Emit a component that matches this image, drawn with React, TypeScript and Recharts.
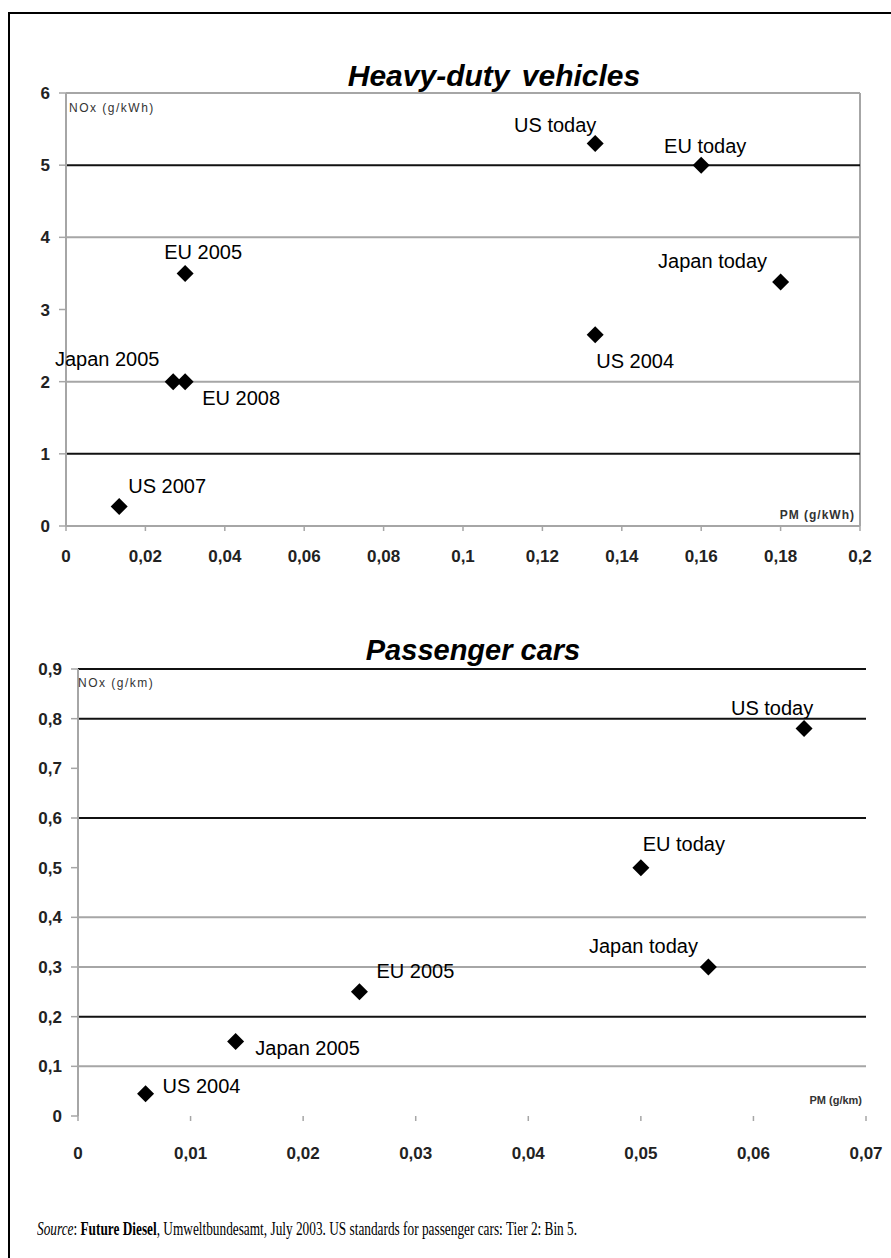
import React from "react";
import {
  ScatterChart,
  Scatter,
  XAxis,
  YAxis,
  ReferenceLine,
} from "recharts";

// ---------- Heavy-duty vehicles data ----------
const hdNames = ["US today", "EU today", "EU 2005", "Japan today", "US 2004", "Japan 2005", "EU 2008", "US 2007"];
const hdPM = [0.1333, 0.16, 0.03, 0.18, 0.1333, 0.027, 0.03, 0.0134];
const hdNOx = [5.3, 5.0, 3.5, 3.38, 2.65, 2.0, 2.0, 0.27];
const hdXTicks = [0, 0.02, 0.04, 0.06, 0.08, 0.1, 0.12, 0.14, 0.16, 0.18, 0.2];
const hdYTicks = [0, 1, 2, 3, 4, 5, 6];
const hdBlackLines = [5, 1];
const hdGreyLines = [6, 4, 2];

// ---------- Passenger cars data ----------
const pcNames = ["US today", "EU today", "Japan today", "EU 2005", "Japan 2005", "US 2004"];
const pcPM = [0.0645, 0.05, 0.056, 0.025, 0.014, 0.006];
const pcNOx = [0.78, 0.5, 0.3, 0.25, 0.15, 0.045];
const pcXTicks = [0, 0.01, 0.02, 0.03, 0.04, 0.05, 0.06, 0.07];
const pcYTicks = [0, 0.1, 0.2, 0.3, 0.4, 0.5, 0.6, 0.7, 0.8, 0.9];
const pcBlackLines = [0.9, 0.8, 0.6, 0.2];
const pcGreyLines = [0.4, 0.3, 0.1];

// ---------- label placement (styling) ----------
const hdLabelOffsets: Record<string, [number, number]> = {
  "US today": [-40, -19],
  "EU today": [4, -19],
  "EU 2005": [18, -21],
  "Japan today": [-68, -21],
  "US 2004": [40, 26],
  "Japan 2005": [-66, -23],
  "EU 2008": [56, 16],
  "US 2007": [48, -21],
};
const pcLabelOffsets: Record<string, [number, number]> = {
  "US today": [-32, -21],
  "EU today": [43, -24],
  "Japan today": [-65, -21],
  "EU 2005": [56, -21],
  "Japan 2005": [72, 6],
  "US 2004": [56, -8],
};

const hdData = hdNames.map((name, i) => ({ name, pm: hdPM[i], nox: hdNOx[i] }));
const pcData = pcNames.map((name, i) => ({ name, pm: pcPM[i], nox: pcNOx[i] }));

const fmt = (v: number) => String(v).replace(".", ",");
const SANS = "Arial, 'Liberation Sans', Helvetica, sans-serif";
const GREY = "#a6a6a6";
const BLACK = "#111";

const makeShape = (offsets: Record<string, [number, number]>) => (props: any) => {
  const { cx, cy, payload } = props;
  if (cx == null || cy == null) return <g />;
  const r = 8.5;
  const [dx, dy] = offsets[payload.name] || [0, -20];
  return (
    <g>
      <path
        d={`M${cx},${cy - r}L${cx + r},${cy}L${cx},${cy + r}L${cx - r},${cy}Z`}
        fill="#000"
      />
      <text
        x={cx + dx}
        y={cy + dy + 7}
        textAnchor="middle"
        fontSize={20}
        fontFamily={SANS}
        fill="#000"
      >
        {payload.name}
      </text>
    </g>
  );
};

const tickStyle = { fontSize: 17, fontWeight: 700, fill: "#222", fontFamily: SANS };

const abs = (left: number, top: number): React.CSSProperties => ({
  position: "absolute",
  left,
  top,
});

const unitStyle: React.CSSProperties = {
  fontFamily: SANS,
  fontSize: 12,
  color: "#333",
  lineHeight: "12px",
  whiteSpace: "nowrap",
};

export default function App() {
  return (
    <div
      style={{
        position: "absolute",
        left: 0,
        top: 0,
        width: 891,
        height: 1258,
        overflow: "hidden",
        background: "#fff",
      }}
    >
      {/* page frame */}
      <div
        style={{
          position: "absolute",
          left: 8,
          top: 12,
          width: 900,
          height: 1300,
          borderLeft: "2px solid #000",
          borderTop: "2px solid #000",
        }}
      />

      {/* Heavy-duty chart */}
      <div style={abs(0, 0)}>
        <ScatterChart
          width={891}
          height={600}
          margin={{ top: 93, right: 31, bottom: 44, left: 26 }}
        >
          <XAxis
            type="number"
            dataKey="pm"
            domain={[0, 0.2]}
            ticks={hdXTicks}
            tickFormatter={fmt}
            height={30}
            axisLine={{ stroke: GREY, strokeWidth: 2 }}
            tickLine={{ stroke: GREY, strokeWidth: 1.5 }}
            tickSize={5}
            tickMargin={19}
            tick={tickStyle}
            interval={0}
          />
          <YAxis
            type="number"
            dataKey="nox"
            domain={[0, 6]}
            ticks={hdYTicks}
            tickFormatter={fmt}
            width={40}
            axisLine={{ stroke: GREY, strokeWidth: 2 }}
            tickLine={{ stroke: GREY, strokeWidth: 1.5 }}
            tickSize={7}
            tickMargin={9}
            tick={tickStyle}
            interval={0}
          />
          {hdGreyLines.map((v) => (
            <ReferenceLine key={"g" + v} y={v} stroke={GREY} strokeWidth={2} />
          ))}
          <ReferenceLine x={0.2} stroke={GREY} strokeWidth={2} />
          {hdBlackLines.map((v) => (
            <ReferenceLine key={"b" + v} y={v} stroke={BLACK} strokeWidth={2} />
          ))}
          <Scatter
            data={hdData}
            isAnimationActive={false}
            shape={makeShape(hdLabelOffsets)}
          />
        </ScatterChart>
      </div>

      {/* Passenger cars chart */}
      <div style={abs(0, 600)}>
        <ScatterChart
          width={891}
          height={600}
          margin={{ top: 69, right: 25, bottom: 54, left: 38 }}
        >
          <XAxis
            type="number"
            dataKey="pm"
            domain={[0, 0.07]}
            ticks={pcXTicks}
            tickFormatter={fmt}
            height={30}
            axisLine={false}
            tickLine={{ stroke: GREY, strokeWidth: 1.5 }}
            tickSize={5}
            tickMargin={26}
            tick={tickStyle}
            interval={0}
          />
          <YAxis
            type="number"
            dataKey="nox"
            domain={[0, 0.9]}
            ticks={pcYTicks}
            tickFormatter={fmt}
            width={40}
            axisLine={{ stroke: GREY, strokeWidth: 2 }}
            tickLine={{ stroke: GREY, strokeWidth: 1.5 }}
            tickSize={7}
            tickMargin={9}
            tick={tickStyle}
            interval={0}
          />
          {pcGreyLines.map((v) => (
            <ReferenceLine key={"g" + v} y={v} stroke={GREY} strokeWidth={2} />
          ))}
          {pcBlackLines.map((v) => (
            <ReferenceLine key={"b" + v} y={v} stroke={BLACK} strokeWidth={2} />
          ))}
          <Scatter
            data={pcData}
            isAnimationActive={false}
            shape={makeShape(pcLabelOffsets)}
          />
        </ScatterChart>
      </div>

      {/* titles */}
      <div
        style={{
          ...abs(0, 58),
          width: 988,
          textAlign: "center",
          fontFamily: SANS,
          fontSize: 30,
          fontWeight: 700,
          fontStyle: "italic",
          lineHeight: "36px",
          wordSpacing: 4,
        }}
      >
        Heavy-duty vehicles
      </div>
      <div
        style={{
          ...abs(0, 632),
          width: 946,
          textAlign: "center",
          fontFamily: SANS,
          fontSize: 29,
          fontWeight: 700,
          fontStyle: "italic",
          lineHeight: "36px",
        }}
      >
        Passenger cars
      </div>

      {/* axis unit labels */}
      <div style={{ ...abs(69, 102), ...unitStyle, letterSpacing: 1.5 }}>NOx (g/kWh)</div>
      <div
        style={{
          ...abs(655, 509),
          ...unitStyle,
          width: 200,
          textAlign: "right",
          fontWeight: 700,
          letterSpacing: 1,
        }}
      >
        PM (g/kWh)
      </div>
      <div style={{ ...abs(78, 677), ...unitStyle, letterSpacing: 1.5 }}>NOx (g/km)</div>
      <div
        style={{
          ...abs(662, 1094),
          ...unitStyle,
          width: 200,
          fontSize: 11,
          textAlign: "right",
          fontWeight: 700,
        }}
      >
        PM (g/km)
      </div>

      {/* source */}
      <div
        style={{
          ...abs(37, 1217),
          fontFamily: "'Liberation Serif', 'Times New Roman', serif",
          fontSize: 19,
          lineHeight: "24px",
          whiteSpace: "nowrap",
          color: "#000",
          transform: "scaleX(0.7)",
          transformOrigin: "0 0",
        }}
      >
        <i>Source</i>: <b>Future Diesel</b>, Umweltbundesamt, July 2003. US standards for passenger cars: Tier 2: Bin 5.
      </div>
    </div>
  );
}
